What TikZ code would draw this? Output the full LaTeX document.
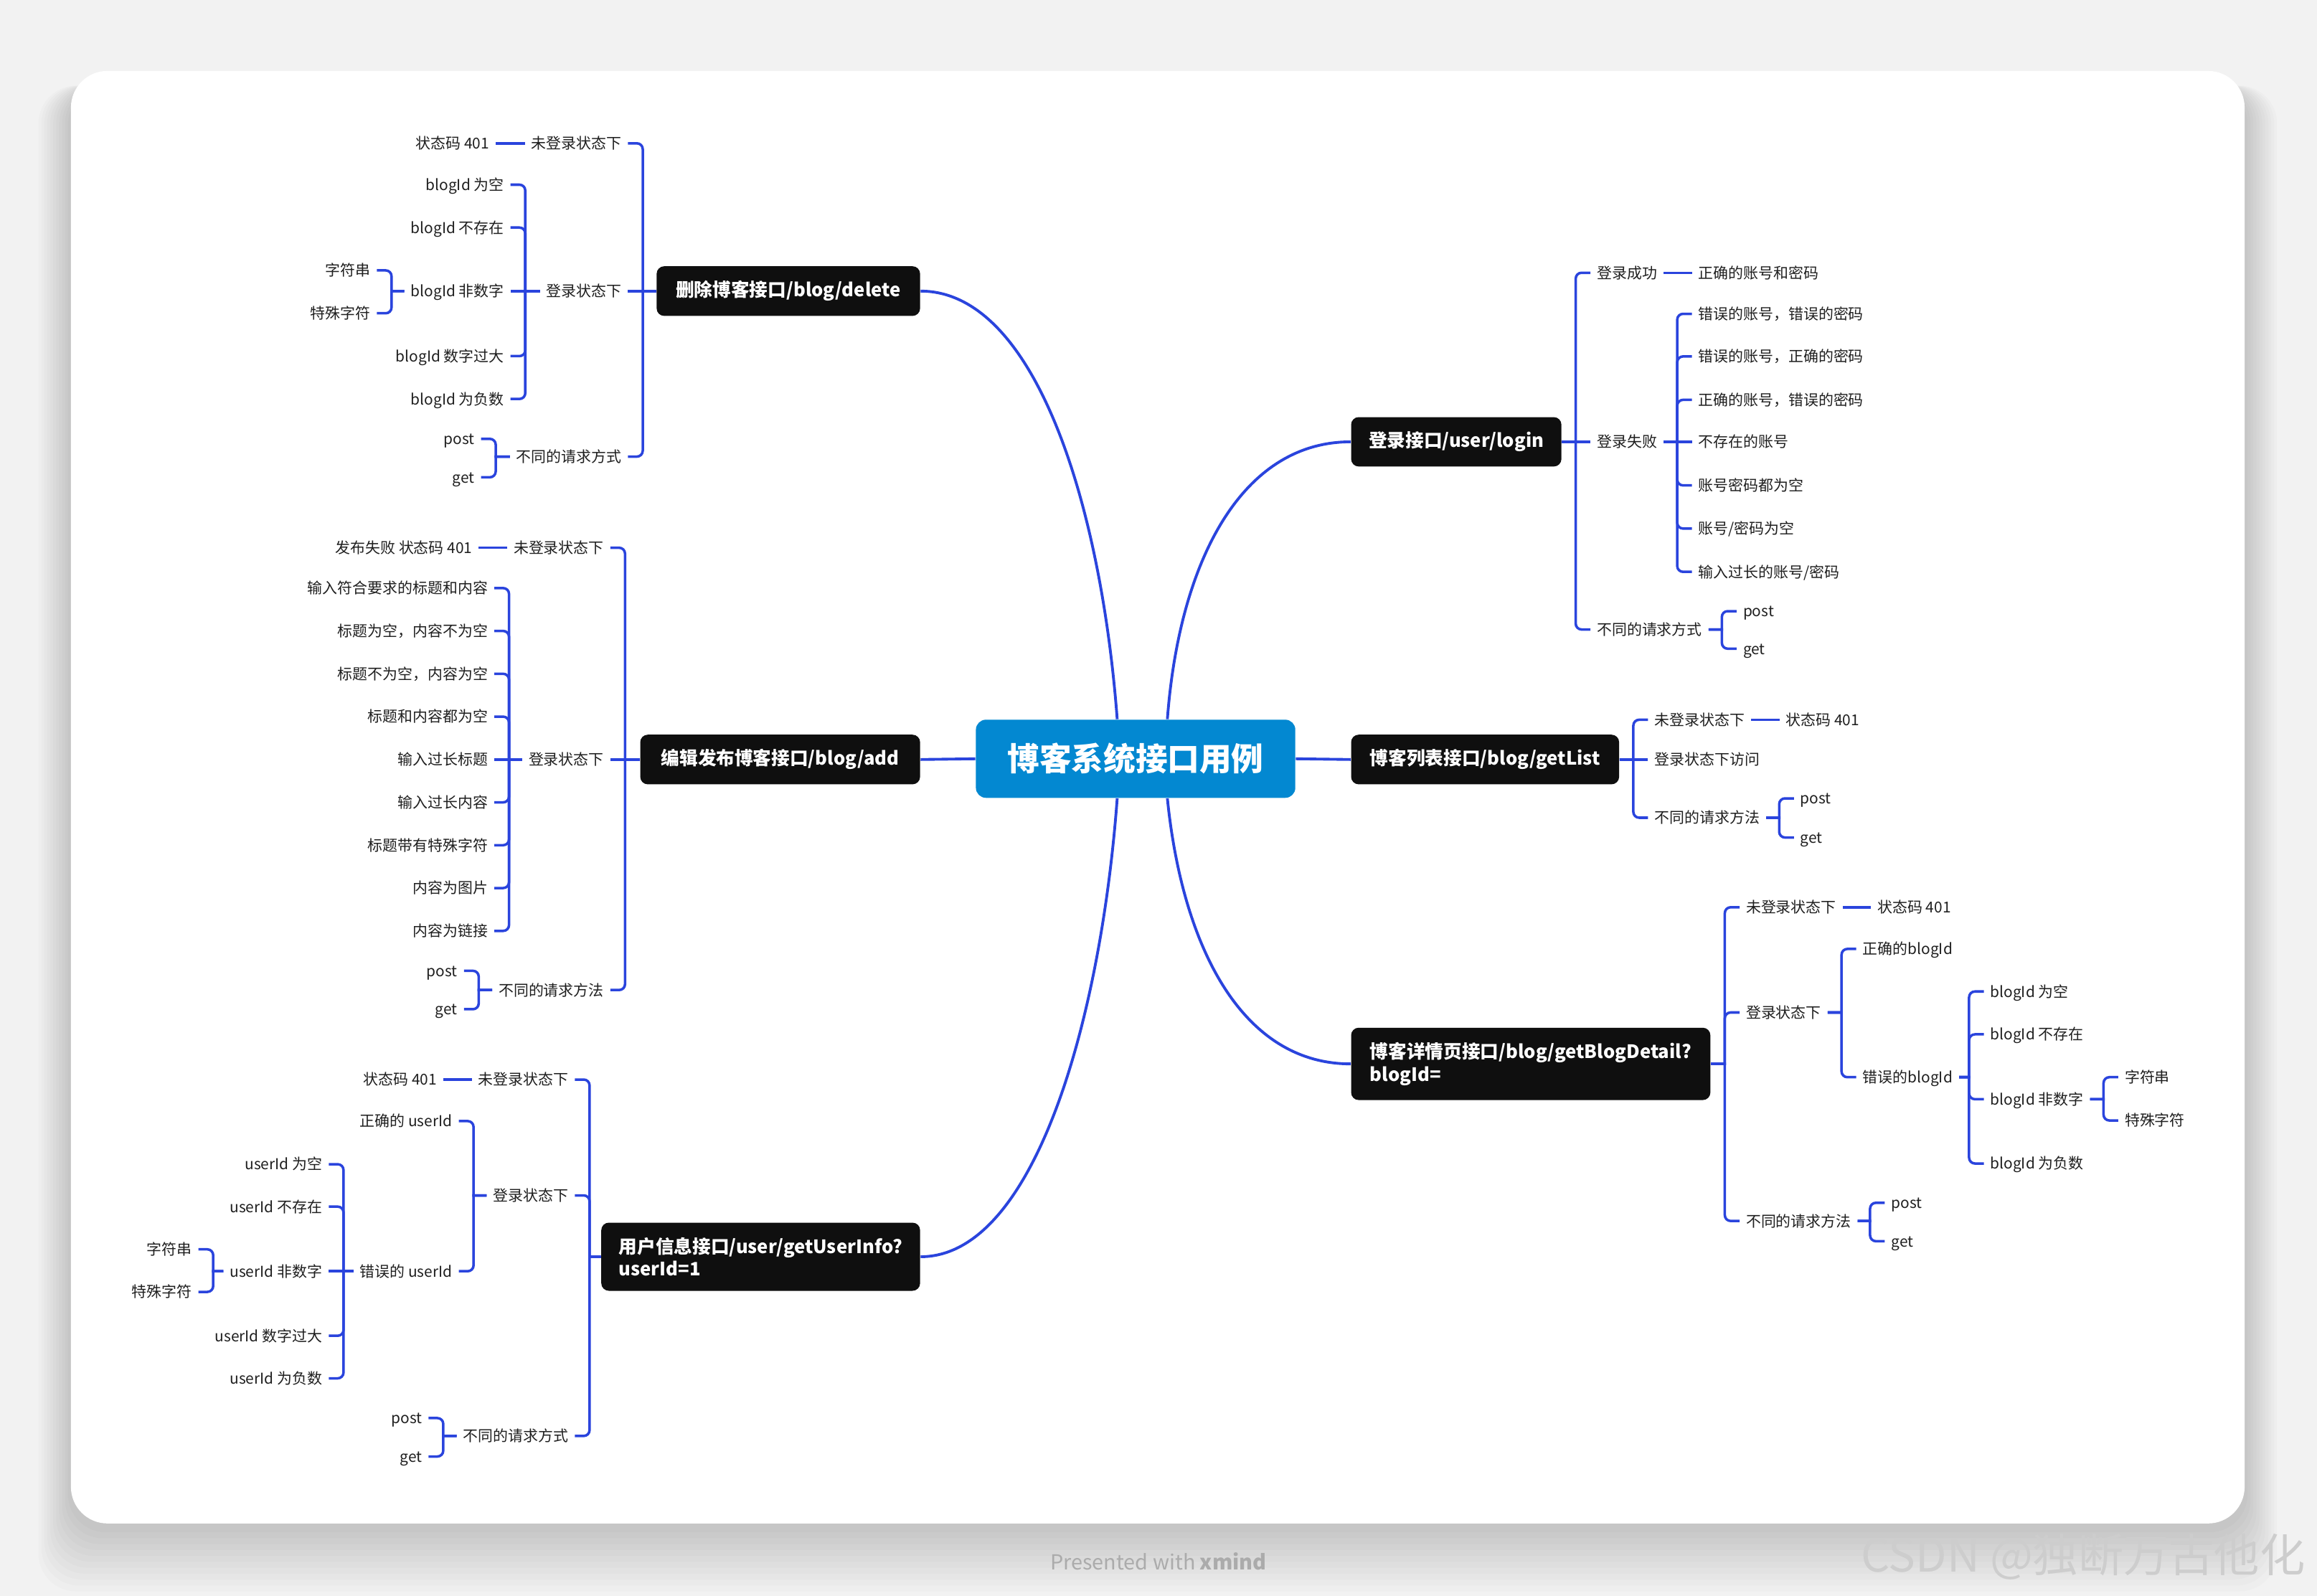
\documentclass[tikz,border=0pt]{standalone}
\usepackage{fontspec}
\setmainfont{Noto Sans CJK SC}
\definecolor{mmpage}{HTML}{F2F2F2}
\definecolor{mmline}{HTML}{2A44DD}
\definecolor{mmbox}{HTML}{0F0F0F}
\definecolor{mmroot}{HTML}{0388D1}
\definecolor{mmtext}{HTML}{1F1F1F}
\definecolor{mmfoot}{HTML}{ABABAB}
\definecolor{mmmark}{HTML}{CDCDCD}

\begin{document}
\begin{tikzpicture}[x=0.0206cm,y=-0.0206cm,
    root/.style={fill=mmroot,text=white,rounded corners=4pt,minimum width=126.7pt,minimum height=31pt,font=\bfseries\fontsize{12.7}{14}\selectfont},
    topic/.style={fill=mmbox,text=white,rounded corners=3pt,inner xsep=7pt,inner ysep=5.8pt,minimum height=18.7pt,align=left,font=\bfseries\fontsize{7.3}{9}\selectfont},
    leaf/.style={text=mmtext,inner xsep=2.6pt,inner ysep=0pt,outer sep=0pt,text height=5.7pt,text depth=1.2pt,font=\fontsize{5.95}{7}\selectfont},
    ll/.style={leaf,anchor=east},
    rl/.style={leaf,anchor=west},
    br/.style={draw=mmline,line width=1pt},
    mn/.style={draw=mmline,line width=1.1pt}]
  \useasboundingbox (0,0) rectangle (1568,1080);
  \fill[mmpage] (0,0) rectangle (1568,1080);
  % card with soft shadow
  \foreach \i in {1,...,11}
    \fill[black,opacity=0.016,rounded corners=15pt] (48-2*\i,58) rectangle (1519+2*\i,1033+4*\i);
  \fill[white,rounded corners=14.5pt] (48,48) rectangle (1519,1031);

  % root and main topics
  \node[root] (ct) at (768.5,513.5) {博客系统接口用例};
  \node[topic,anchor=east,minimum width=104.5pt] (del) at (623,197) {删除博客接口/blog/delete};
  \node[topic,anchor=east,minimum width=111pt] (add) at (623,514) {编辑发布博客接口/blog/add};
  \node[topic,anchor=east,minimum width=125.6pt] (usr) at (623,850.5) {用户信息接口/user/getUserInfo?\\userId=1};
  \node[topic,anchor=west,minimum width=83pt] (lgn) at (914,299) {登录接口/user/login};
  \node[topic,anchor=west,minimum width=106.3pt] (lst) at (914,514) {博客列表接口/blog/getList};
  \node[topic,anchor=west,minimum width=142.5pt] (det) at (914,720) {博客详情页接口/blog/getBlogDetail?\\blogId=};

  \draw[mn] ([xshift=-7.3pt]ct.north) .. controls (745,340) and (700,197) .. (del.east);
  \draw[mn] ([xshift=12.6pt]ct.north) .. controls (798,380) and (840,299) .. (lgn.west);
  \draw[mn] ([xshift=-7.3pt]ct.south) .. controls (745,690) and (700,850.5) .. (usr.east);
  \draw[mn] ([xshift=12.6pt]ct.south) .. controls (800,640) and (840,720) .. (det.west);
  \draw[mn] (ct.west) -- (add.east);
  \draw[mn] (ct.east) -- (lst.west);

  % delete
  \node[ll] (delNo) at (425,97) {未登录状态下};
  \node[ll] (delNo1) at (335.5,97) {状态码 401};
  \node[ll] (delIn) at (425,197) {登录状态下};
  \node[ll] (delIn1) at (345.5,125) {blogId 为空};
  \node[ll] (delIn2) at (345.5,154) {blogId 不存在};
  \node[ll] (delIn3) at (345.5,197) {blogId 非数字};
  \node[ll] (delIn4) at (345.5,241) {blogId 数字过大};
  \node[ll] (delIn5) at (345.5,270) {blogId 为负数};
  \node[ll] (delIn3a) at (255,183) {字符串};
  \node[ll] (delIn3b) at (255,212) {特殊字符};
  \node[ll] (delMe) at (425,309) {不同的请求方式};
  \node[ll] (delMe1) at (325.5,297) {post};
  \node[ll] (delMe2) at (325.5,323) {get};

  % add
  \node[ll] (addNo) at (413,370.7) {未登录状态下};
  \node[ll] (addNo1) at (324,370.7) {发布失败 状态码 401};
  \node[ll] (addIn) at (413,514) {登录状态下};
  \node[ll] (addIn1) at (334.5,398) {输入符合要求的标题和内容};
  \node[ll] (addIn2) at (334.5,427) {标题为空，内容不为空};
  \node[ll] (addIn3) at (334.5,456) {标题不为空，内容为空};
  \node[ll] (addIn4) at (334.5,485) {标题和内容都为空};
  \node[ll] (addIn5) at (334.5,514) {输入过长标题};
  \node[ll] (addIn6) at (334.5,543) {输入过长内容};
  \node[ll] (addIn7) at (334.5,572) {标题带有特殊字符};
  \node[ll] (addIn8) at (334.5,601) {内容为图片};
  \node[ll] (addIn9) at (334.5,630) {内容为链接};
  \node[ll] (addMe) at (413,670) {不同的请求方法};
  \node[ll] (addMe1) at (314,657) {post};
  \node[ll] (addMe2) at (314,683) {get};

  % user info
  \node[ll] (usrNo) at (389,730.6) {未登录状态下};
  \node[ll] (usrNo1) at (300,730.6) {状态码 401};
  \node[ll] (usrIn) at (389,809) {登录状态下};
  \node[ll] (usrIn1) at (310.5,758.7) {正确的 userId};
  \node[ll] (usrIn2) at (310.5,860.3) {错误的 userId};
  \node[ll] (usrIn21) at (222.5,787.9) {userId 为空};
  \node[ll] (usrIn22) at (222.5,816.6) {userId 不存在};
  \node[ll] (usrIn23) at (222.5,860.3) {userId 非数字};
  \node[ll] (usrIn24) at (222.5,904) {userId 数字过大};
  \node[ll] (usrIn25) at (222.5,932.8) {userId 为负数};
  \node[ll] (usrIn23a) at (134.3,845.5) {字符串};
  \node[ll] (usrIn23b) at (134.3,874.3) {特殊字符};
  \node[ll] (usrMe) at (389,971.8) {不同的请求方式};
  \node[ll] (usrMe1) at (290,959.7) {post};
  \node[ll] (usrMe2) at (290,985.7) {get};

  % login
  \node[rl] (lgnOk) at (1076.3,184.6) {登录成功};
  \node[rl] (lgnOk1) at (1145,184.6) {正确的账号和密码};
  \node[rl] (lgnNo) at (1076.3,299) {登录失败};
  \node[rl] (lgnNo1) at (1145,212.4) {错误的账号，错误的密码};
  \node[rl] (lgnNo2) at (1145,241.2) {错误的账号，正确的密码};
  \node[rl] (lgnNo3) at (1145,270.6) {正确的账号，错误的密码};
  \node[rl] (lgnNo4) at (1145,299) {不存在的账号};
  \node[rl] (lgnNo5) at (1145,328.5) {账号密码都为空};
  \node[rl] (lgnNo6) at (1145,357.7) {账号/密码为空};
  \node[rl] (lgnNo7) at (1145,387) {输入过长的账号/密码};
  \node[rl] (lgnMe) at (1076.3,426) {不同的请求方式};
  \node[rl] (lgnMe1) at (1175.2,413.6) {post};
  \node[rl] (lgnMe2) at (1175.2,439) {get};

  % list
  \node[rl] (lstNo) at (1115.3,487.1) {未登录状态下};
  \node[rl] (lstNo1) at (1204.3,487.1) {状态码 401};
  \node[rl] (lstIn) at (1115.3,514) {登录状态下访问};
  \node[rl] (lstMe) at (1115.3,553.4) {不同的请求方法};
  \node[rl] (lstMe1) at (1214,540.3) {post};
  \node[rl] (lstMe2) at (1214,566.8) {get};

  % detail
  \node[rl] (detNo) at (1177.2,614) {未登录状态下};
  \node[rl] (detNo1) at (1266.2,614) {状态码 401};
  \node[rl] (detIn) at (1177.2,685.2) {登录状态下};
  \node[rl] (detIn1) at (1256.2,642.2) {正确的blogId};
  \node[rl] (detIn2) at (1256.2,729) {错误的blogId};
  \node[rl] (detIn21) at (1342.5,671) {blogId 为空};
  \node[rl] (detIn22) at (1342.5,700) {blogId 不存在};
  \node[rl] (detIn23) at (1342.5,743.9) {blogId 非数字};
  \node[rl] (detIn24) at (1342.5,787.4) {blogId 为负数};
  \node[rl] (detIn23a) at (1433.5,729) {字符串};
  \node[rl] (detIn23b) at (1433.5,758.3) {特殊字符};
  \node[rl] (detMe) at (1177.2,826.3) {不同的请求方法};
  \node[rl] (detMe1) at (1275.5,814) {post};
  \node[rl] (detMe2) at (1275.5,840) {get};

  % brackets, left side
  \foreach \p/\cs in {del/{delNo,delMe},delIn/{delIn1,delIn2,delIn4,delIn5},delIn3/{delIn3a,delIn3b},delMe/{delMe1,delMe2},
      add/{addNo,addMe},addIn/{addIn1,addIn2,addIn3,addIn4,addIn6,addIn7,addIn8,addIn9},addMe/{addMe1,addMe2},
      usr/{usrNo,usrIn,usrMe},usrIn/{usrIn1,usrIn2},usrIn2/{usrIn21,usrIn22,usrIn24,usrIn25},usrIn23/{usrIn23a,usrIn23b},usrMe/{usrMe1,usrMe2}}
    \foreach \c in \cs
      \draw[br] (\p.west) -- ([xshift=5.84pt]\c.east |- \p.west) [rounded corners=2.3pt] -- ([xshift=5.84pt]\c.east) -- (\c.east);
  \foreach \a/\b in {del/delIn,delNo/delNo1,delIn/delIn3,add/addIn,addNo/addNo1,addIn/addIn5,usrNo/usrNo1,usrIn2/usrIn23}
    \draw[br] (\a.west) -- (\b.east);

  % brackets, right side
  \foreach \p/\cs in {lgn/{lgnOk,lgnMe},lgnNo/{lgnNo1,lgnNo2,lgnNo3,lgnNo5,lgnNo6,lgnNo7},lgnMe/{lgnMe1,lgnMe2},
      lst/{lstNo,lstMe},lstMe/{lstMe1,lstMe2},
      det/{detNo,detIn,detMe},detIn/{detIn1,detIn2},detIn2/{detIn21,detIn22,detIn23,detIn24},detIn23/{detIn23a,detIn23b},detMe/{detMe1,detMe2}}
    \foreach \c in \cs
      \draw[br] (\p.east) -- ([xshift=-5.84pt]\c.west |- \p.east) [rounded corners=2.3pt] -- ([xshift=-5.84pt]\c.west) -- (\c.west);
  \foreach \a/\b in {lgn/lgnNo,lgnOk/lgnOk1,lgnNo/lgnNo4,lst/lstIn,lstNo/lstNo1,detNo/detNo1}
    \draw[br] (\a.east) -- (\b.west);

  % footer
  \node[font=\fontsize{8.2}{10}\selectfont,text=mmfoot] (foot) at (784,1056.5) {Presented with \textbf{xmind}};
  \node[font=\fontsize{18}{20}\selectfont,text=mmmark,anchor=east] (mark) at (1566,1053.5) {CSDN @独断万古他化};
\end{tikzpicture}
\end{document}
